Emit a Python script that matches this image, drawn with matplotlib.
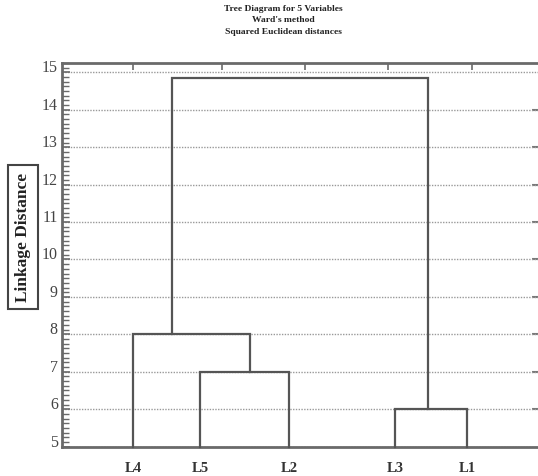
import matplotlib
matplotlib.use("Agg")
import matplotlib.pyplot as plt
from matplotlib.ticker import MultipleLocator
from matplotlib.transforms import ScaledTranslation

# ---- data ----
leaf_labels = ["L4", "L5", "L2", "L3", "L1"]
leaf_x = [1.49, 2.90, 4.77, 7.00, 8.51]
# merges: (left child, right child, height, x position of new node)
# children: leaf index (0..4) or node id "n0", "n1", ...
merge_left = [1, 3, 0, "n2"]
merge_right = [2, 4, "n0", "n1"]
merge_height = [7.0, 6.0, 8.0, 14.85]
merge_node_x = [3.95, 7.69, 2.31, 5.0]
y_ticks = list(range(5, 16))
top_ticks = [1.49, 3.36, 5.11, 6.85, 8.61]
title_lines = ["Tree Diagram for 5 Variables", "Ward's method", "Squared Euclidean distances"]
y_label = "Linkage Distance"

serif = ["Liberation Serif", "DejaVu Serif"]
line_col = "#555555"
spine_col = "#6a6a6a"

fig = plt.figure(figsize=(5.38, 4.76), dpi=100)
ax = fig.add_axes([62 / 538, 1 - 447 / 476, 1 - 62 / 538, (447 - 63) / 476])
ylo, yhi = 4.99, 15.25
ax.set_ylim(ylo, yhi)
ax.set_xlim(0, 10)

# dendrogram
node_pos = {}
node_h = {}
def pos(c):
    if isinstance(c, int):
        return leaf_x[c], ylo
    return node_pos[c], node_h[c]

for i, (l, r, h, nx) in enumerate(zip(merge_left, merge_right, merge_height, merge_node_x)):
    lx, lh = pos(l)
    rx, rh = pos(r)
    ax.plot([lx, lx, rx, rx], [lh, h, h, rh], color=line_col, lw=1.6,
            solid_joinstyle="miter", zorder=3, clip_on=False)
    node_pos["n%d" % i] = nx
    node_h["n%d" % i] = h

# grid
ax.set_yticks(y_ticks)
ax.yaxis.set_minor_locator(MultipleLocator(0.125))
ax.grid(axis="y", which="major", linestyle=(0, (1, 1)), color="#999999", lw=1.0, zorder=1)
ax.set_axisbelow(True)

# spines
for s in ["left", "bottom", "top"]:
    ax.spines[s].set_color(spine_col)
    ax.spines[s].set_linewidth(2.0)
ax.spines["right"].set_visible(False)

ax.tick_params(axis="y", which="major", direction="in", length=6, width=1.2,
               color=spine_col, pad=3, labelsize=11.5, labelcolor="#444444")
ax.tick_params(axis="y", which="minor", direction="in", length=5, width=1.0, color=spine_col)
for lab in ax.get_yticklabels():
    lab.set_fontfamily(serif)
    lab.set_transform(lab.get_transform() + ScaledTranslation(0, 0.06, fig.dpi_scale_trans))

ax.set_xticks(leaf_x)
ax.set_xticklabels(leaf_labels, fontfamily=serif, fontweight="bold", fontsize=10.5, color="#333333")
ax.tick_params(axis="x", which="both", length=0, pad=11)

# top ticks
sec = ax.secondary_xaxis("top")
sec.set_xticks(top_ticks)
sec.tick_params(direction="in", length=5, width=1.2, color=spine_col, labeltop=False)
sec.spines["top"].set_visible(False)

# right ticks
secr = ax.secondary_yaxis("right")
secr.set_yticks(y_ticks[1:-1])
secr.tick_params(direction="in", length=4, width=1.5, color="#777777", labelright=False)
secr.spines["right"].set_visible(False)

# y label in a box
fig.text(23 / 538, 1 - 237 / 476, y_label, rotation=90, ha="center", va="center",
         fontfamily=serif, fontweight="bold", fontsize=12.5, color="#222222",
         bbox=dict(boxstyle="square,pad=0.4", fc="white", ec="#444444", lw=1.5))

# title
for i, t in enumerate(title_lines):
    fig.text(283 / 538, 1 - (9 + 11.5 * i) / 476, t, ha="center", va="center",
             fontfamily=serif, fontweight="bold", fontsize=6.8, color="#222222")

fig.savefig("out.png", dpi=100)
